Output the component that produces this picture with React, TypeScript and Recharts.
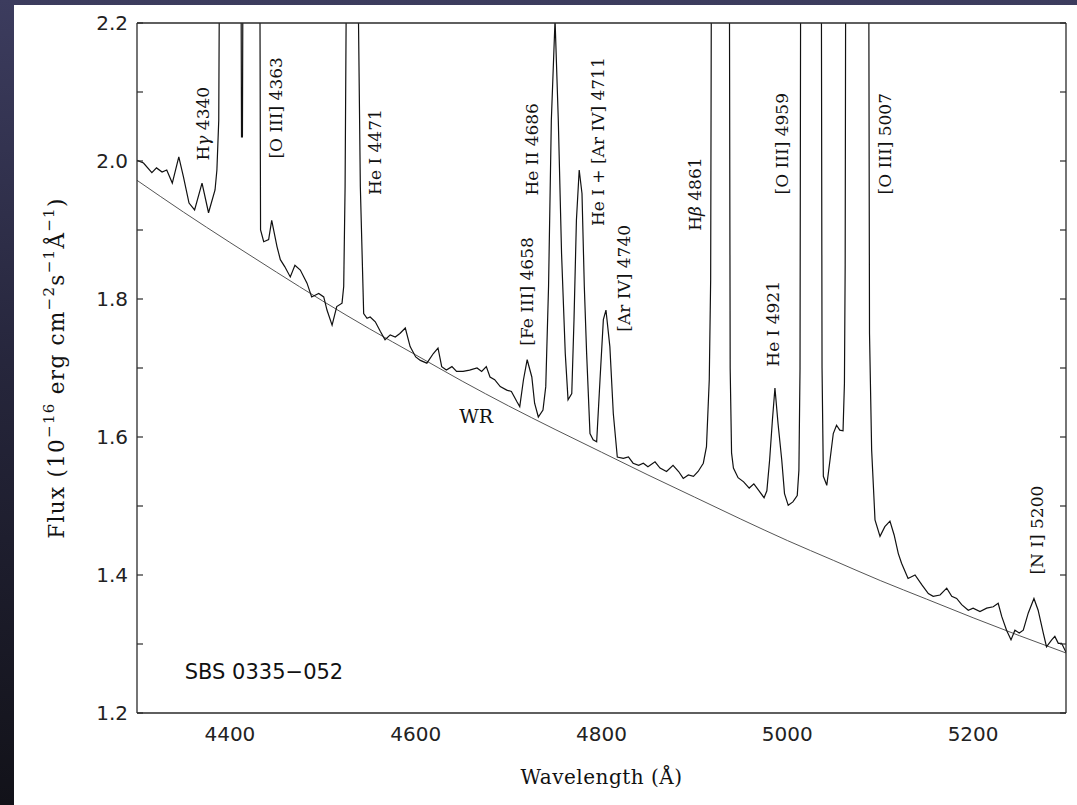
import React from 'react';
import { LineChart, Line, XAxis, YAxis, ReferenceDot } from 'recharts';

// Observed spectrum of SBS 0335-052 (wavelength in Angstrom, flux in 1e-16 erg cm^-2 s^-1 A^-1)
const specWl = [
  4300, 4307, 4316, 4321, 4327, 4332, 4338, 4345, 4350, 4356,
  4362, 4370, 4377, 4384, 4386, 4388, 4389.5, 4392, 4408, 4411.5,
  4412.5, 4413.5, 4414.5, 4418, 4430, 4432, 4433, 4436.4, 4441.7, 4445,
  4450.7, 4454.3, 4459, 4465, 4470, 4475.8, 4483, 4488, 4495.6, 4501,
  4504.5, 4510, 4515, 4520.7, 4522.5, 4524, 4526, 4530, 4534, 4536.8,
  4540.4, 4544, 4547.6, 4551, 4556.5, 4562, 4567, 4572.6, 4578, 4583,
  4588.8, 4594, 4600, 4605, 4612, 4619, 4624, 4628, 4633, 4639,
  4644, 4651, 4658, 4666, 4671, 4676, 4680, 4685, 4691, 4698,
  4703, 4709, 4712, 4716, 4720, 4725, 4728, 4732, 4737, 4740,
  4743, 4746, 4750, 4753.5, 4757, 4761, 4764, 4768, 4770.4, 4773,
  4776, 4779, 4781.5, 4784, 4787.6, 4791, 4794.8, 4798.4, 4802, 4804.8,
  4809, 4812.7, 4817, 4823.5, 4829, 4834, 4840, 4845, 4850, 4857.6,
  4863, 4870, 4877, 4883, 4888, 4893.5, 4899, 4904, 4909.6, 4913,
  4916, 4917.5, 4918.5, 4922, 4934, 4937.5, 4938.5, 4940, 4942, 4947,
  4953, 4959, 4964, 4969, 4975, 4978, 4981, 4984, 4986.7, 4990,
  4994, 4997, 5001, 5006, 5010.7, 5012.5, 5013.7, 5014.5, 5018, 5034,
  5036.5, 5037.4, 5038.8, 5042.5, 5046, 5049.5, 5053, 5056.5, 5060, 5061.5,
  5062.3, 5063, 5067, 5084, 5087.5, 5088.5, 5090.8, 5094.4, 5099.8, 5105,
  5110.5, 5115, 5119.5, 5123, 5130, 5137.5, 5144.7, 5151.8, 5157, 5164.4,
  5171.6, 5177, 5182.3, 5187.7, 5194.8, 5200, 5207.4, 5214.6, 5221.7, 5227,
  5230.8, 5236, 5240.8, 5245, 5249.7, 5254, 5259.4, 5265.5, 5270, 5275.5,
  5279, 5284.6, 5288, 5291.7, 5295.3, 5300,
];
const specFlux = [
  2.001, 1.997, 1.983, 1.990, 1.984, 1.987, 1.968, 2.006, 1.977, 1.939,
  1.929, 1.968, 1.925, 1.958, 1.987, 2.059, 2.5, 3.0, 3.0, 2.5,
  2.035, 2.035, 2.5, 3.0, 3.0, 2.4, 1.900, 1.883, 1.886, 1.914,
  1.876, 1.857, 1.847, 1.832, 1.849, 1.842, 1.823, 1.803, 1.808, 1.803,
  1.784, 1.762, 1.789, 1.794, 1.818, 1.963, 2.4, 3.0, 3.0, 2.4,
  1.963, 1.779, 1.772, 1.774, 1.767, 1.753, 1.741, 1.748, 1.745, 1.750,
  1.758, 1.731, 1.716, 1.711, 1.707, 1.721, 1.729, 1.702, 1.697, 1.702,
  1.695, 1.695, 1.697, 1.700, 1.695, 1.702, 1.687, 1.683, 1.673, 1.668,
  1.666, 1.651, 1.644, 1.683, 1.712, 1.687, 1.649, 1.629, 1.639, 1.673,
  1.818, 2.059, 2.205, 2.059, 1.866, 1.721, 1.654, 1.663, 1.770, 1.914,
  1.987, 1.953, 1.818, 1.721, 1.605, 1.596, 1.593, 1.683, 1.770, 1.784,
  1.731, 1.634, 1.571, 1.569, 1.571, 1.562, 1.559, 1.562, 1.557, 1.564,
  1.555, 1.550, 1.559, 1.550, 1.540, 1.545, 1.543, 1.550, 1.562, 1.586,
  1.683, 1.828, 2.4, 3.5, 3.5, 2.4, 1.700, 1.577, 1.555, 1.541,
  1.535, 1.526, 1.532, 1.523, 1.512, 1.522, 1.567, 1.625, 1.671, 1.620,
  1.567, 1.518, 1.501, 1.506, 1.515, 1.552, 1.700, 2.4, 3.5, 3.5,
  2.4, 1.700, 1.543, 1.530, 1.567, 1.605, 1.617, 1.610, 1.609, 1.678,
  1.850, 2.4, 3.5, 3.5, 2.4, 1.750, 1.581, 1.480, 1.456, 1.470,
  1.478, 1.458, 1.431, 1.417, 1.395, 1.400, 1.386, 1.373, 1.369, 1.371,
  1.381, 1.369, 1.366, 1.357, 1.349, 1.352, 1.347, 1.352, 1.354, 1.359,
  1.340, 1.320, 1.306, 1.320, 1.316, 1.320, 1.345, 1.366, 1.349, 1.316,
  1.296, 1.306, 1.311, 1.301, 1.301, 1.288,
];

// Fitted WR/continuum curve
const contWl = [4300, 4350, 4400, 4450, 4500, 4550, 4600, 4650, 4700, 4750, 4800, 4850, 4900, 4950, 5000, 5050, 5100, 5150, 5200, 5250, 5300];
const contFlux = [1.972, 1.926, 1.882, 1.839, 1.797, 1.757, 1.719, 1.681, 1.645, 1.611, 1.578, 1.545, 1.513, 1.481, 1.450, 1.421, 1.392, 1.365, 1.338, 1.312, 1.287];

// Axis ticks
const xMajorTicks = [4400, 4600, 4800, 5000, 5200];
const xMinorTicks = [4500, 4700, 4900, 5100];
const yLabelTicks = [1.2, 1.4, 1.6, 1.8, 2.0, 2.2];
const yAllTicks = [1.2, 1.3, 1.4, 1.5, 1.6, 1.7, 1.8, 1.9, 2.0, 2.1, 2.2];

// Line identification labels
const lineLabels = ['Hγ 4340', '[O III] 4363', 'He I 4471', '[Fe III] 4658', 'He II 4686', 'He I + [Ar IV] 4711', '[Ar IV] 4740', 'Hβ 4861', 'He I 4921', '[O III] 4959', '[O III] 5007', '[N I] 5200'];
const labelWl = [4371, 4449.6, 4556.7, 4720.3, 4724.9, 4796.6, 4824.2, 4900.6, 4985, 4994.8, 5105, 5268.4];
const labelFlux = [2.054, 2.077, 2.013, 1.811, 2.017, 2.028, 1.83, 1.952, 1.764, 2.025, 2.025, 1.465];

const wrLabel = { text: 'WR', wl: 4665, flux: 1.63 };
const objLabel = { text: 'SBS 0335−052', wl: 4436.7, flux: 1.259 };

const specData = specWl.map((wl, i) => ({ wl, flux: specFlux[i] }));
const contData = contWl.map((wl, i) => ({ wl, flux: contFlux[i] }));

const AXIS = '#2a2a2a';
const SERIF = 'DejaVu Serif';
const SANS = 'DejaVu Sans';

function labelParts(s: string) {
  return s.split(/([γβ])/).filter((p) => p.length > 0).map((p, i) =>
    /[γβ]/.test(p) ? (
      <tspan key={i} fontStyle="italic">{p}</tspan>
    ) : (
      <tspan key={i}>{p}</tspan>
    )
  );
}

const rotShape = (text: string) => (props: any) => {
  const { cx, cy } = props;
  return (
    <text
      x={cx}
      y={cy}
      transform={`rotate(-90 ${cx} ${cy})`}
      textAnchor="middle"
      dominantBaseline="central"
      fontFamily={SERIF}
      fontSize={17}
      fill="#111"
    >
      {labelParts(text)}
    </text>
  );
};

const flatShape = (text: string, family: string, size: number) => (props: any) => {
  const { cx, cy } = props;
  return (
    <text x={cx} y={cy} textAnchor="middle" dominantBaseline="central" fontFamily={family} fontSize={size} fill="#111">
      {text}
    </text>
  );
};

const NoTick = () => <g />;

const YTitle = (props: any) => {
  const vb = props.viewBox || { x: 63, y: 18, width: 60, height: 690 };
  const x = vb.x - 13;
  const y = vb.y + vb.height / 2;
  const sup = { fontSize: 15 };
  return (
    <text x={x} y={y} transform={`rotate(-90 ${x} ${y})`} textAnchor="middle" fontFamily={SERIF} fontSize={21.5} fill="#111" letterSpacing={1.3}>
      <tspan>Flux (10</tspan>
      <tspan dy={-10} {...sup}>−16</tspan>
      <tspan dy={10}> erg cm</tspan>
      <tspan dy={-10} {...sup}>−2</tspan>
      <tspan dy={10}>s</tspan>
      <tspan dy={-10} {...sup}>−1</tspan>
      <tspan dy={10}>Å</tspan>
      <tspan dy={-10} {...sup}>−1</tspan>
      <tspan dy={10}>)</tspan>
    </text>
  );
};

const XTitle = (props: any) => {
  const vb = props.viewBox || { x: 123, y: 708, width: 929, height: 40 };
  const x = vb.x + vb.width / 2;
  const y = vb.y + 64;
  return (
    <text x={x} y={y} textAnchor="middle" dominantBaseline="central" fontFamily={SERIF} fontSize={20} fill="#111" letterSpacing={0.5}>
      Wavelength (Å)
    </text>
  );
};

const tickStroke = { stroke: AXIS, strokeWidth: 1.2 };

export default function App() {
  return (
    <div
      style={{
        position: 'fixed',
        left: 0,
        top: 0,
        width: 1077,
        height: 805,
        overflow: 'hidden',
        background: 'linear-gradient(180deg, #3c3c5e 0%, #26263c 45%, #121219 100%)',
      }}
    >
      <div style={{ position: 'absolute', left: 14, top: 5, width: 1063, height: 800, background: '#ffffff' }}>
        <LineChart width={1063} height={800} margin={{ top: 18, right: 11, bottom: 52, left: 63 }}>
          {/* main axes with labels */}
          <XAxis
            xAxisId="x"
            dataKey="wl"
            type="number"
            domain={[4300, 5300]}
            allowDataOverflow
            ticks={xMajorTicks}
            interval={0}
            height={40}
            tickLine={false}
            tickSize={6}
            tickMargin={8}
            axisLine={{ stroke: AXIS, strokeWidth: 1.3 }}
            tick={{ fontFamily: SANS, fontSize: 20, fill: '#222' }}
            label={{ content: XTitle }}
          />
          <YAxis
            yAxisId="y"
            type="number"
            domain={[1.2, 2.2]}
            allowDataOverflow
            ticks={yLabelTicks}
            interval={0}
            width={60}
            tickLine={false}
            tickSize={6}
            tickMargin={3}
            axisLine={{ stroke: AXIS, strokeWidth: 1.3 }}
            tick={{ fontFamily: SANS, fontSize: 20, fill: '#222' }}
            tickFormatter={(v: number) => v.toFixed(1)}
            label={{ content: YTitle }}
          />
          {/* inward tick marks */}
          <XAxis xAxisId="xbM" type="number" domain={[4300, 5300]} allowDataOverflow orientation="bottom" mirror ticks={xMajorTicks} interval={0} tick={NoTick} tickSize={10} tickLine={tickStroke} axisLine={false} height={20} />
          <XAxis xAxisId="xbm" type="number" domain={[4300, 5300]} allowDataOverflow orientation="bottom" mirror ticks={xMinorTicks} interval={0} tick={NoTick} tickSize={5} tickLine={tickStroke} axisLine={false} height={20} />
          <XAxis xAxisId="xtM" type="number" domain={[4300, 5300]} allowDataOverflow orientation="top" mirror ticks={xMajorTicks} interval={0} tick={NoTick} tickSize={10} tickLine={tickStroke} axisLine={{ stroke: AXIS, strokeWidth: 1.3 }} height={20} />
          <XAxis xAxisId="xtm" type="number" domain={[4300, 5300]} allowDataOverflow orientation="top" mirror ticks={xMinorTicks} interval={0} tick={NoTick} tickSize={6} tickLine={tickStroke} axisLine={false} height={20} />
          <YAxis yAxisId="ylT" type="number" domain={[1.2, 2.2]} allowDataOverflow orientation="left" mirror ticks={yAllTicks} interval={0} tick={NoTick} tickSize={6} tickLine={tickStroke} axisLine={false} width={20} />
          <YAxis yAxisId="yrT" type="number" domain={[1.2, 2.2]} allowDataOverflow orientation="right" mirror ticks={yAllTicks} interval={0} tick={NoTick} tickSize={6} tickLine={tickStroke} axisLine={{ stroke: AXIS, strokeWidth: 1.3 }} width={20} />

          <Line
            xAxisId="x"
            yAxisId="y"
            data={contData}
            dataKey="flux"
            type="monotone"
            stroke="#555"
            strokeWidth={1}
            dot={false}
            activeDot={false}
            isAnimationActive={false}
          />
          <Line
            xAxisId="x"
            yAxisId="y"
            data={specData}
            dataKey="flux"
            type="linear"
            stroke="#111"
            strokeWidth={1.2}
            dot={false}
            activeDot={false}
            isAnimationActive={false}
          />

          {lineLabels.map((t, i) => (
            <ReferenceDot key={t} xAxisId="x" yAxisId="y" x={labelWl[i]} y={labelFlux[i]} r={0} shape={rotShape(t)} />
          ))}
          <ReferenceDot xAxisId="x" yAxisId="y" x={wrLabel.wl} y={wrLabel.flux} r={0} shape={flatShape(wrLabel.text, SERIF, 19)} />
          <ReferenceDot xAxisId="x" yAxisId="y" x={objLabel.wl} y={objLabel.flux} r={0} shape={flatShape(objLabel.text, SANS, 21)} />
        </LineChart>
      </div>
    </div>
  );
}
